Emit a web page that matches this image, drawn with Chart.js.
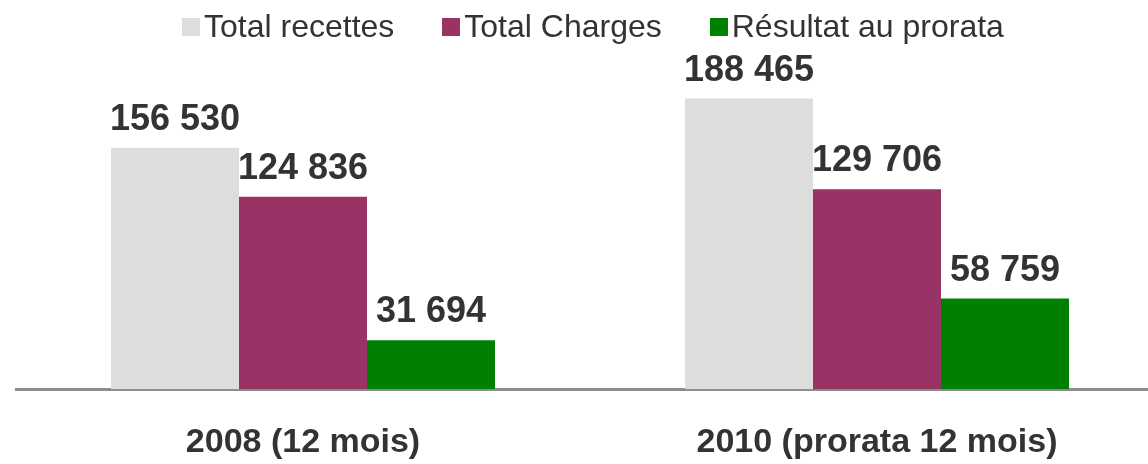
<!DOCTYPE html>
<html>
<head>
<meta charset="utf-8">
<script src="https://cdn.jsdelivr.net/npm/chart.js@4/dist/chart.umd.min.js"></script>
<style>
  body { margin: 0; overflow: hidden; background: #fff; font-family: "Liberation Sans", Arial, sans-serif; }
  #wrap { position: relative; width: 1148px; height: 464px; overflow: hidden; }
  #legend { position: absolute; top: 8px; left: 182px; display: flex; align-items: center; gap: 48px; color: #333; font-size: 32px; }
  #legend .item { display: flex; align-items: center; }
  #legend .box { width: 18px; height: 18px; margin-right: 4px; }
</style>
</head>
<body>
<div id="wrap">
  <canvas id="barChart" width="1164" height="500"></canvas>
  <div id="legend"></div>
</div>
<script>
const categories = ['2008 (12 mois)', '2010 (prorata 12 mois)'];
const seriesNames = ['Total recettes', 'Total Charges', 'Résultat au prorata'];
const recettes = [156530, 188465];
const charges = [124836, 129706];
const resultat = [31694, 58759];
const colors = ['#dddddd', '#993366', '#008000'];

const formatNum = (v) => v.toString().replace(/\B(?=(\d{3})+(?!\d))/g, ' ');

// labels above each bar
const barLabels = {
  id: 'barLabels',
  afterDatasetsDraw(chart) {
    const ctx = chart.ctx;
    ctx.save();
    ctx.font = 'bold 36px "Liberation Sans", Arial, sans-serif';
    ctx.fillStyle = '#333';
    ctx.textAlign = 'center';
    ctx.textBaseline = 'alphabetic';
    chart.data.datasets.forEach((ds, i) => {
      chart.getDatasetMeta(i).data.forEach((bar, j) => {
        ctx.fillText(formatNum(ds.data[j]), bar.x, bar.y - 18);
      });
    });
    ctx.restore();
  }
};

const ctx = document.getElementById('barChart').getContext('2d');
const barChart = new Chart(ctx, {
  type: 'bar',
  data: {
    labels: categories,
    datasets: [
      { label: seriesNames[0], data: recettes, backgroundColor: colors[0] },
      { label: seriesNames[1], data: charges, backgroundColor: colors[1] },
      { label: seriesNames[2], data: resultat, backgroundColor: colors[2] }
    ]
  },
  options: {
    responsive: false,
    animation: false,
    categoryPercentage: 0.669,
    barPercentage: 1,
    layout: { padding: { top: 50, left: 16, right: 0, bottom: 4 } },
    plugins: {
      legend: { display: false },
      tooltip: { enabled: false }
    },
    scales: {
      x: {
        grid: { display: false, drawTicks: false },
        border: { display: true, color: '#8c8c8c', width: 3 },
        ticks: {
          color: '#333',
          padding: 33,
          font: { family: '"Liberation Sans", Arial, sans-serif', size: 34, weight: 'bold' }
        }
      },
      y: {
        display: false,
        min: 0,
        max: 220000
      }
    }
  },
  plugins: [barLabels]
});

const legend = document.getElementById('legend');
seriesNames.forEach((name, i) => {
  const item = document.createElement('div');
  item.className = 'item';
  item.innerHTML = `<span class="box" style="background:${colors[i]}"></span><span>${name}</span>`;
  legend.appendChild(item);
});
</script>
</body>
</html>
